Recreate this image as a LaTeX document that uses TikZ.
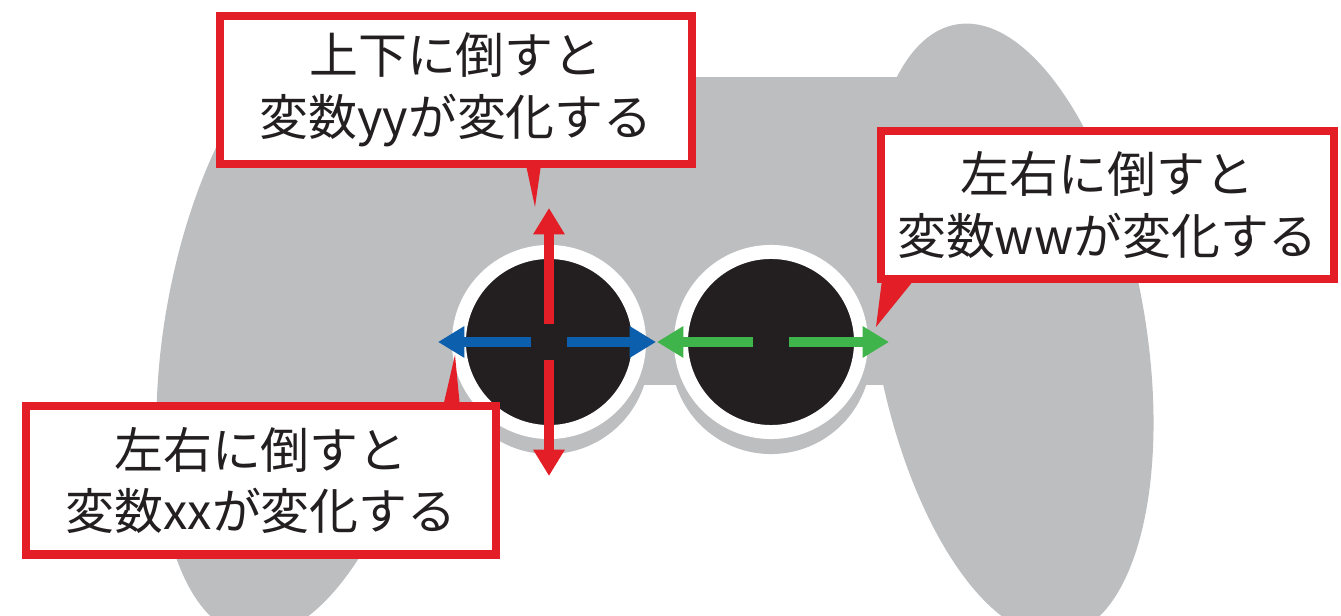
\documentclass[tikz,border=0pt]{standalone}
\usepackage{fontspec}
\usepackage{xcolor}
\usetikzlibrary{arrows.meta}
\newfontfamily\jpfont{Noto Sans CJK JP}
\definecolor{padgray}{HTML}{BCBEC0}
\definecolor{calloutred}{HTML}{E31E26}
\definecolor{xblue}{HTML}{0B5FAD}
\definecolor{wgreen}{HTML}{3FB44A}
\definecolor{inkblack}{HTML}{231F20}

\begin{document}
\begin{tikzpicture}[x=0.01cm, y=-0.01cm, >={Triangle[width=8.5pt,length=7.5pt]},
    callout/.style={rectangle, draw=calloutred, line width=2.3pt, fill=white, inner sep=0pt,
        minimum width=4.72cm, minimum height=1.48cm, align=center, text=inkblack,
        font=\jpfont\fontsize{13.9pt}{17.6pt}\selectfont},
    stick/.style={circle, fill=inkblack, draw=white, line width=0.14cm, minimum size=1.8cm, inner sep=0pt},
    tilt/.style={->, line width=0.1cm, shorten <=0.18cm}]
    \useasboundingbox (0,0) rectangle (1341,616);

    % controller body
    \begin{scope}
        \clip (0,0) rectangle (1341,616);
        \fill[padgray, rotate around={10:(1010,330)}] (1010,330) ellipse [x radius=1.35cm, y radius=3.1cm];
        \fill[padgray, rotate around={-10:(300,330)}] (300,330) ellipse [x radius=1.35cm, y radius=3.1cm];
        \fill[padgray] (300,77) rectangle (1010,385);
        \fill[padgray] (300,380) rectangle (470,405);
        \fill[padgray] (549,354) circle [radius=1cm];
        \fill[padgray] (771,354) circle [radius=1cm];
    \end{scope}

    % sticks
    \node[stick] (lstick) at (549,342) {};
    \node[stick] (rstick) at (771,342) {};

    \coordinate (yup) at (549,208);
    \coordinate (ydown) at (549,476);
    \coordinate (xleft) at (438,342);
    \coordinate (xright) at (656,342);
    \coordinate (wleft) at (657,342);
    \coordinate (wright) at (889,342);

    \draw[tilt, calloutred] (lstick.center) -- (yup);
    \draw[tilt, calloutred] (lstick.center) -- (ydown);
    \draw[tilt, xblue] (lstick.center) -- (xleft);
    \draw[tilt, xblue] (lstick.center) -- (xright);
    \draw[tilt, wgreen] (rstick.center) -- (wleft);
    \draw[tilt, wgreen] (rstick.center) -- (wright);

    % callouts
    \node[callout] (ybox) at (456,90) {上下に倒すと\\変数yyが変化する};
    \node[callout, minimum width=4.53cm] (wbox) at (1107.5,205) {左右に倒すと\\変数wwが変化する};
    \node[callout, minimum width=4.70cm] (xbox) at (261,480.5) {左右に倒すと\\変数xxが変化する};

    \fill[calloutred] (526,165) -- (541,165) -- (535,207) -- cycle;
    \fill[calloutred] (882,280) -- (914,280) -- (876,327) -- cycle;
    \fill[calloutred] (443,407) -- (460,407) -- (455,355) -- cycle;
\end{tikzpicture}
\end{document}
